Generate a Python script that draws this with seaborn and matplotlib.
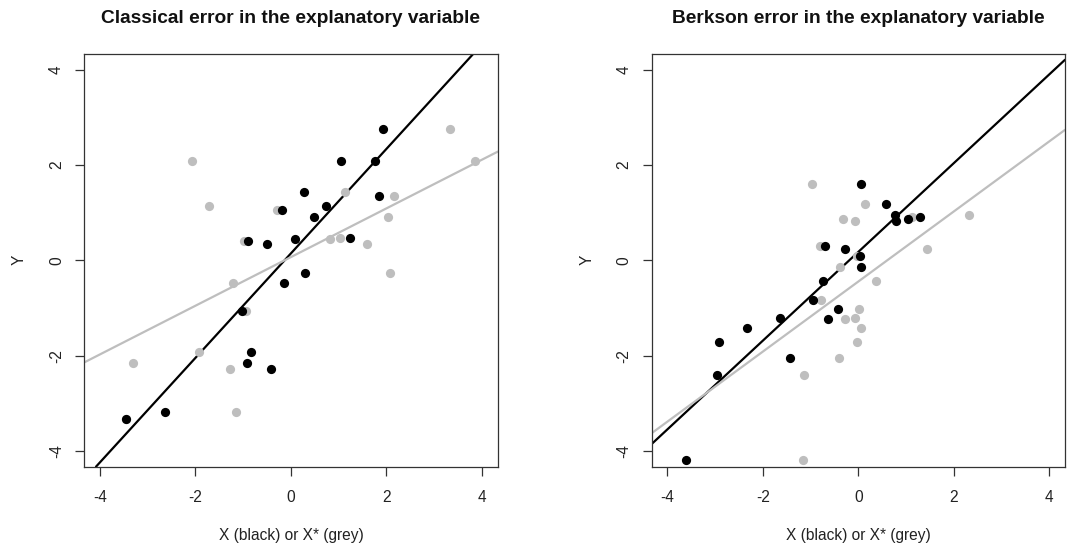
import numpy as np
import pandas as pd
import matplotlib
matplotlib.use("Agg")
import matplotlib.pyplot as plt
import seaborn as sns

# ---------------- data ----------------
titles = ["Classical error in the explanatory variable",
          "Berkson error in the explanatory variable"]
x_label = "X (black) or X* (grey)"
y_label = "Y"
ticks = [-4, -2, 0, 2, 4]

# Classical panel
cl_x = [-3.45, -2.63, -1.03, -0.83, -0.91, -0.42, -0.89, -0.50, -0.19, 0.08,
        -0.14, 0.30, 0.28, 0.49, 0.74, 1.05, 1.24, 1.76, 1.85, 1.93]
cl_y = [-3.33, -3.19, -1.06, -1.93, -2.16, -2.29, 0.40, 0.35, 1.05, 0.45,
        -0.47, -0.26, 1.44, 0.91, 1.14, 2.09, 0.47, 2.09, 1.35, 2.75]
cl_xstar = [-3.45, -1.15, -0.94, -1.92, -3.30, -1.27, -0.98, 1.60, -0.29, 0.82,
            -1.22, 2.08, 1.14, 2.04, -1.71, 3.86, 1.03, -2.07, 2.16, 3.34]

# Berkson panel
bk_x = [-3.61, -2.97, -2.91, -2.34, -1.64, -1.44, -0.96, -0.75, -0.70, -0.64,
        -0.43, -0.28, 0.05, 0.03, 0.05, 0.57, 0.76, 0.79, 1.03, 1.29]
bk_y = [-4.18, -2.41, -1.72, -1.43, -1.22, -2.06, -0.84, -0.44, 0.30, -1.24,
        -1.03, 0.24, 1.60, 0.09, -0.14, 1.19, 0.96, 0.82, 0.87, 0.91]
bk_xstar = [-1.15, -1.13, -0.03, 0.05, -0.08, -0.41, -0.79, 0.36, -0.81, -0.28,
            0.02, 1.43, -0.98, -0.03, -0.39, 0.13, 2.31, -0.06, -0.33, 1.12]

# fitted lines (intercept, slope)
cl_line_true = (0.145, 1.097)
cl_line_star = (0.068, 0.511)
bk_line_true = (0.177, 0.931)
bk_line_star = (-0.445, 0.735)

# ---------------- style ----------------
sns.set_style("white")
plt.rcParams["font.family"] = ["Liberation Sans", "DejaVu Sans"]

GREY = "#BEBEBE"
TXT = "#222222"
LIM = (-4.33, 4.33)

fig = plt.figure(figsize=(10.68, 5.49), dpi=100)
ax1 = fig.add_axes([0.0787, 0.150, 0.3874, 0.7517])
ax2 = fig.add_axes([0.6102, 0.150, 0.3870, 0.7517])

panels = [
    (ax1, titles[0], cl_x, cl_xstar, cl_y, cl_line_true, cl_line_star),
    (ax2, titles[1], bk_x, bk_xstar, bk_y, bk_line_true, bk_line_star),
]

for ax, title, xs, xst, ys, lt, ls in panels:
    df = pd.DataFrame({"x": xs, "xstar": xst, "y": ys})
    ax.set_xlim(*LIM)
    ax.set_ylim(*LIM)
    sns.scatterplot(data=df, x="xstar", y="y", color=GREY, s=44,
                    linewidth=0, ax=ax, zorder=3)
    sns.scatterplot(data=df, x="x", y="y", color="black", s=44,
                    linewidth=0, ax=ax, zorder=3)
    ax.axline((0, lt[0]), slope=lt[1], color="black", lw=1.6, zorder=2)
    ax.axline((0, ls[0]), slope=ls[1], color=GREY, lw=1.6, zorder=2)
    ax.set_xlim(*LIM)
    ax.set_ylim(*LIM)
    ax.set_xticks(ticks)
    ax.set_yticks(ticks)
    ax.set_xticklabels([str(t) for t in ticks], fontsize=11.2)
    ax.set_yticklabels([str(t) for t in ticks], fontsize=11.2,
                       rotation=90, va="center")
    ax.tick_params(axis="both", bottom=True, left=True, direction="out",
                   length=6.5, width=0.9, color="#333333", labelcolor=TXT)
    ax.tick_params(axis="x", pad=10)
    ax.tick_params(axis="y", pad=8)
    for sp in ax.spines.values():
        sp.set_visible(True)
        sp.set_color("#333333")
        sp.set_linewidth(0.9)
    ax.set_xlabel(x_label, fontsize=11.2, color=TXT, labelpad=17)
    ax.set_ylabel(y_label, fontsize=11.2, color=TXT, labelpad=16)
    ax.set_title(title, fontsize=13.8, fontweight="bold", pad=22, color="#111111")

fig.savefig("out.png", dpi=100)
